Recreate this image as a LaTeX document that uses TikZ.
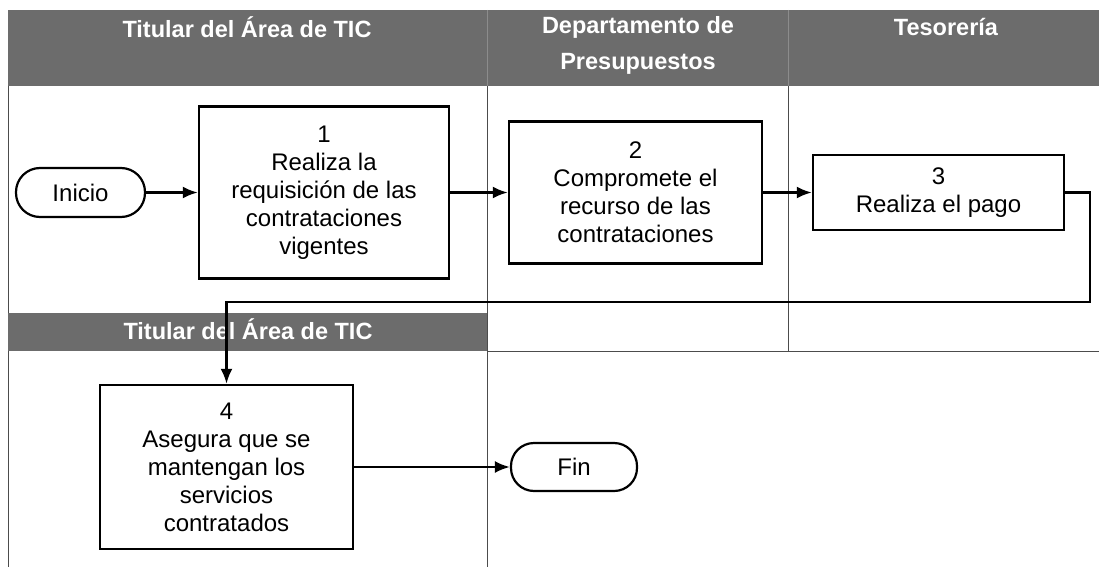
\documentclass[tikz,border=0pt]{standalone}
\usepackage{fontspec}
\setmainfont{Liberation Sans}
\usetikzlibrary{arrows.meta}
\definecolor{hdr}{RGB}{108,108,108}
\begin{document}
\begin{tikzpicture}[x=1pt,y=-1pt,
  box/.style={draw=black,line width=2.4pt,fill=white,align=center,inner sep=0pt,
    font=\fontsize{24}{28}\selectfont},
  term/.style={draw=black,line width=2.2pt,fill=white,inner sep=0pt,
    font=\fontsize{24}{28}\selectfont},
  hdrtext/.style={text=white,font=\bfseries\fontsize{23.5}{36}\selectfont,align=center,inner sep=0pt},
  lane/.style={draw=black!70,line width=1pt},
  flow/.style={draw=black,line width=2.4pt,-{Latex[length=15pt,width=12pt]}}]
\useasboundingbox (0,0) rectangle (1099,567);
% header bands
\fill[hdr] (8,10) rectangle (1099,86);
\fill[hdr] (8,313) rectangle (488,351);
\draw[black!45,line width=0.8pt] (487,10) -- (487,86) (788,10) -- (788,86);
% lane lines
\draw[lane] (8,86) -- (8,313) (8,351) -- (8,567);
\draw[lane] (487,86) -- (487,567);
\draw[lane] (788,86) -- (788,351);
\draw[lane] (488,351) -- (1099,351);
% header labels
\node[hdrtext,anchor=center] (h1) at (247,27) {Titular del Área de TIC};
\node[hdrtext,anchor=north] (h2) at (638,16) {Departamento de\\Presupuestos};
\node[hdrtext,anchor=center] (h3) at (946,27) {Tesorería};
\node[hdrtext,anchor=center] (h4) at (248,329) {Titular del Área de TIC};
% nodes
\node[term,minimum width=129pt,minimum height=49pt,rounded corners=24pt] (ini) at (80.5,192.5) {Inicio};
\node[box,minimum width=250pt,minimum height=172pt] (b1) at (324,192.5)
  {1\\Realiza la\\requisición de las\\contrataciones\\vigentes};
\node[box,minimum width=253pt,minimum height=142pt] (b2) at (635.5,192.5)
  {2\\Compromete el\\recurso de las\\contrataciones};
\node[box,minimum width=251pt,minimum height=75pt] (b3) at (938.5,192.5)
  {3\\Realiza el pago};
\node[box,minimum width=253pt,minimum height=164pt] (b4) at (226.5,467)
  {4\\Asegura que se\\mantengan los\\servicios\\contratados};
\node[term,minimum width=126pt,minimum height=48pt,rounded corners=23pt] (fin) at (574,467) {Fin};
% connectors
\coordinate (c1) at (1090,302);
\draw[flow] (ini.east) -- (b1.west);
\draw[flow] (b1.east) -- (b2.west);
\draw[flow] (b2.east) -- (b3.west);
\draw[flow] (b3.east) -| (c1) -| (b4.north);
\draw[flow] (b4.east) -- (fin.west);
\end{tikzpicture}
\end{document}
